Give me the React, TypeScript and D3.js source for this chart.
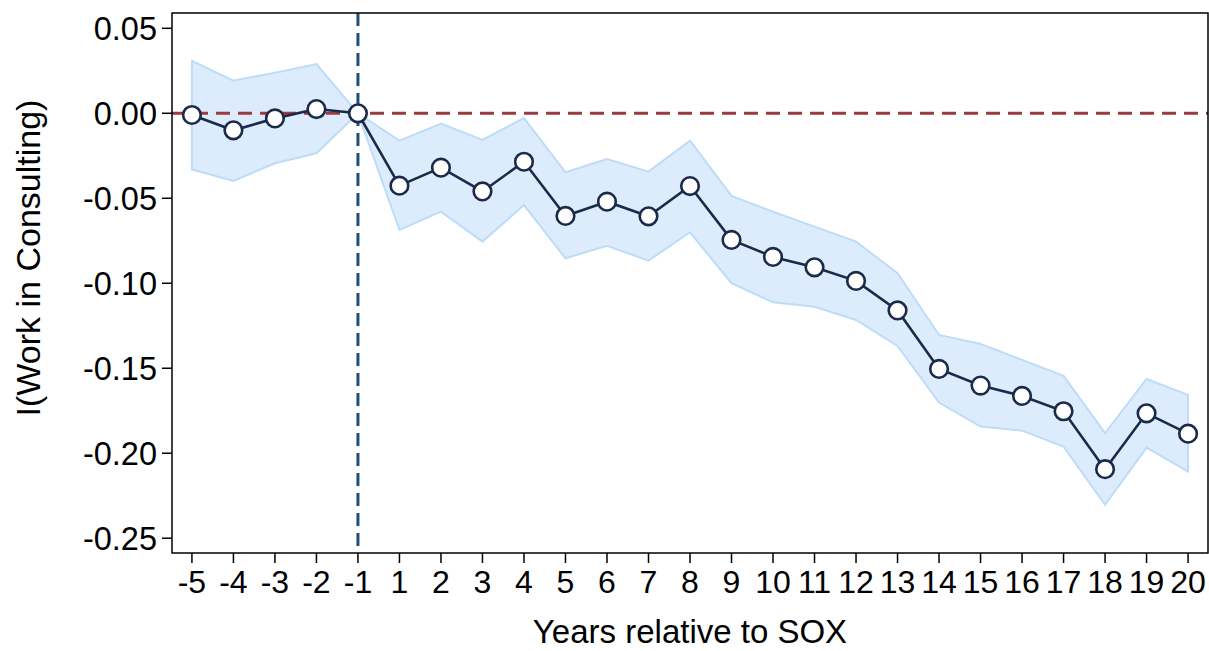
import React from "react"
import * as d3 from "d3"

// event-study estimates
const years = ["-5", "-4", "-3", "-2", "-1", "1", "2", "3", "4", "5", "6", "7", "8", "9", "10", "11", "12", "13", "14", "15", "16", "17", "18", "19", "20"]
const coef = [-0.001, -0.010, -0.003, 0.0025, 0, -0.0426, -0.032, -0.046, -0.0285, -0.0604, -0.052, -0.0606, -0.0428, -0.0745, -0.0845, -0.0906, -0.0986, -0.116, -0.1504, -0.1602, -0.1663, -0.1753, -0.2094, -0.1765, -0.1885]
const upper = [0.0308, 0.0192, 0.0239, 0.029, 0, -0.0161, -0.0061, -0.0157, -0.0028, -0.0347, -0.0269, -0.0343, -0.0161, -0.0486, -0.0579, -0.0667, -0.0755, -0.0941, -0.1304, -0.1357, -0.1451, -0.1545, -0.1882, -0.1563, -0.1657]
const lower = [-0.033, -0.0398, -0.0294, -0.0235, 0, -0.0686, -0.0579, -0.0755, -0.054, -0.0853, -0.0779, -0.0867, -0.070, -0.100, -0.1112, -0.1138, -0.1216, -0.1369, -0.1702, -0.1843, -0.1867, -0.1961, -0.2304, -0.1967, -0.2108]
const yTicks = [0.05, 0, -0.05, -0.1, -0.15, -0.2, -0.25]

const width = 1209
const height = 651
const left = 172, right = 1208, top = 13, bottom = 553
const font = "Liberation Sans, Arial, sans-serif"

export default function App() {
  const x = d3.scalePoint<string>().domain(years).range([left, right]).padding(0.48)
  const y = d3.scaleLinear().domain([-0.2587, 0.059]).range([bottom, top])
  const fmt = (v: number) => d3.format(".2f")(v).replace("\u2212", "-")

  const rows = years.map((yr, i) => ({ yr, c: coef[i], hi: upper[i], lo: lower[i] }))

  const band = d3.area<any>()
    .x(d => x(d.yr)!)
    .y0(d => y(d.lo))
    .y1(d => y(d.hi))
  const line = d3.line<any>()
    .x(d => x(d.yr)!)
    .y(d => y(d.c))

  const navy = "#1c2a4a"
  const xRef = x("-1")!

  return (
    <svg width={width} height={height} style={{ position: "absolute", left: 0, top: 0, background: "#fff" }}>
      {/* confidence band */}
      <path d={band(rows)!} fill="#ddecfd" stroke="#bddcf8" strokeWidth={2} />
      {/* zero line */}
      <line x1={left} x2={right} y1={y(0)} y2={y(0)} stroke="#9b3a3f" strokeWidth={3} strokeDasharray="14 8" />
      {/* SOX reference year */}
      <line x1={xRef} x2={xRef} y1={top} y2={bottom} stroke="#1f4e7a" strokeWidth={3} strokeDasharray="13 7" />
      <path d={line(rows)!} fill="none" stroke={navy} strokeWidth={2.6} />
      {rows.map(d => (
        <circle key={d.yr} cx={x(d.yr)} cy={y(d.c)} r={8.8} fill="#fff" stroke={navy} strokeWidth={2.6} />
      ))}

      {/* frame */}
      <rect x={left} y={top} width={right - left} height={bottom - top} fill="none" stroke="#000" strokeWidth={1.5} />

      {/* y axis */}
      {yTicks.map(t => (
        <g key={t}>
          <line x1={left - 10} x2={left} y1={y(t)} y2={y(t)} stroke="#000" strokeWidth={1.5} />
          <text x={left - 15} y={y(t)} dy="0.36em" textAnchor="end" fontSize={32.5} fontFamily={font}>{fmt(t)}</text>
        </g>
      ))}
      <text transform={`translate(40,${(top + bottom) / 2 - 25}) rotate(-90)`} textAnchor="middle" fontSize={34} fontFamily={font}>
        I(Work in Consulting)
      </text>

      {/* x axis */}
      {years.map(yr => (
        <g key={yr}>
          <line x1={x(yr)} x2={x(yr)} y1={bottom} y2={bottom + 10} stroke="#000" strokeWidth={1.5} />
          <text x={x(yr)} y={593} textAnchor="middle" fontSize={32} fontFamily={font}>{yr}</text>
        </g>
      ))}
      <text x={690} y={643} textAnchor="middle" fontSize={33} fontFamily={font}>Years relative to SOX</text>
    </svg>
  )
}
